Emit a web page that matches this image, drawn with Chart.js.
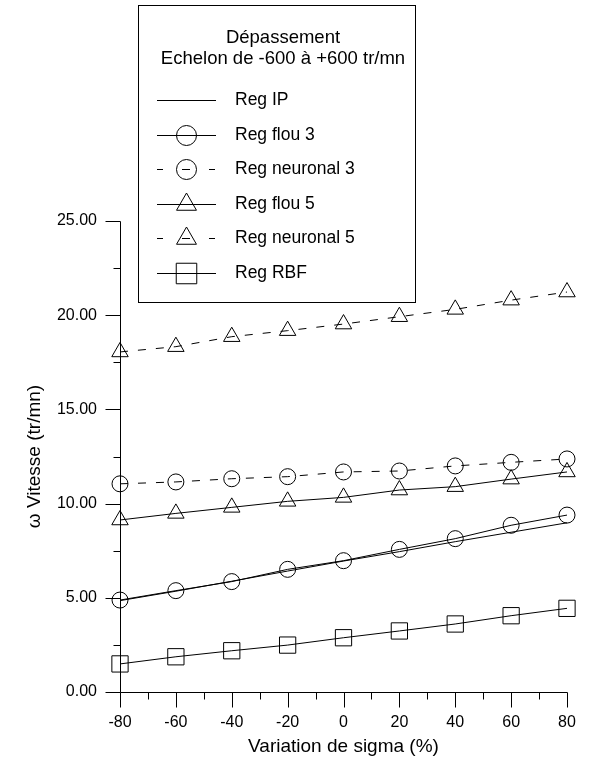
<!DOCTYPE html>
<html>
<head>
<meta charset="utf-8">
<script src="https://cdn.jsdelivr.net/npm/chart.js@4/dist/chart.umd.min.js"></script>
<style>
html,body{margin:0;padding:0;background:#fff;}
#wrap{width:610px;height:760px;}
</style>
</head>
<body>
<div id="wrap"><canvas id="c" width="610" height="760"></canvas></div>
<script>
const sigmaVariation = [-80, -60, -40, -20, 0, 20, 40, 60, 80];
const regIP        = [4.85, 5.35, 5.88, 6.42, 6.95, 7.45, 7.98, 8.48, 8.98];
const regFlou3     = [4.88, 5.38, 5.86, 6.51, 6.97, 7.57, 8.14, 8.85, 9.39];
const regNeuronal3 = [11.05, 11.15, 11.32, 11.43, 11.68, 11.73, 12.00, 12.19, 12.37];
const regFlou5     = [9.13, 9.48, 9.80, 10.12, 10.33, 10.72, 10.90, 11.30, 11.68];
const regNeuronal5 = [18.05, 18.33, 18.86, 19.18, 19.53, 19.92, 20.31, 20.80, 21.23];
const regRBF       = [1.49, 1.87, 2.19, 2.49, 2.88, 3.24, 3.61, 4.05, 4.44];
const yTickLabels  = ['0.00', '5.00', '10.00', '15.00', '20.00', '25.00'];
const legendTitle  = ['Dépassement', 'Echelon de -600 à +600 tr/mn'];
const xTitle = 'Variation de sigma (%)';
const yTitle = 'ω Vitesse (tr/mn)';

const FONT = '"Liberation Sans", Arial, Helvetica, sans-serif';
const pts = arr => arr.map((v, i) => ({x: sigmaVariation[i], y: v}));

function ds(label, arr, style, radius, dashed) {
  return {
    label, data: pts(arr),
    borderColor: '#000', borderWidth: 1, backgroundColor: 'transparent',
    pointStyle: style || 'circle', pointRadius: style ? radius : 0,
    pointBorderColor: '#000', pointBackgroundColor: 'transparent', pointBorderWidth: 1,
    borderDash: dashed ? [8, 10] : [], tension: 0, clip: false
  };
}

const datasets = [
  ds('Reg IP', regIP, null, 0, false),
  ds('Reg flou 3', regFlou3, 'circle', 8, false),
  ds('Reg neuronal 3', regNeuronal3, 'circle', 8, true),
  ds('Reg flou 5', regFlou5, 'triangle', 9.5, false),
  ds('Reg neuronal 5', regNeuronal5, 'triangle', 9.5, true),
  ds('Reg RBF', regRBF, 'rect', 11.5, false)
];

const axesPlugin = {
  id: 'axesPlugin',
  beforeDatasetsDraw(chart) {
    const {ctx, scales: {x, y}} = chart;
    ctx.save();
    ctx.strokeStyle = '#000';
    ctx.lineWidth = 1;
    const x0 = Math.round(x.getPixelForValue(-80)) + 0.5;
    const y0 = Math.round(y.getPixelForValue(0)) + 0.5;
    ctx.beginPath();
    ctx.moveTo(x0, Math.round(y.getPixelForValue(25)) + 0.5);
    ctx.lineTo(x0, y0);
    ctx.moveTo(x0, y0);
    ctx.lineTo(Math.round(x.getPixelForValue(80)) + 0.5, y0);
    for (let v = 0; v <= 25; v += 2.5) {
      const py = Math.round(y.getPixelForValue(v)) + 0.5;
      const len = (v % 5 === 0) ? 15 : 7;
      ctx.moveTo(x0 - len, py); ctx.lineTo(x0, py);
    }
    for (let v = -80; v <= 80; v += 10) {
      const px = Math.round(x.getPixelForValue(v)) + 0.5;
      const len = (v % 20 === 0) ? 15 : 7;
      ctx.moveTo(px, y0); ctx.lineTo(px, y0 + len);
    }
    ctx.stroke();
    ctx.restore();
  }
};

function drawMarker(ctx, style, cx, cy, r) {
  ctx.beginPath();
  if (style === 'circle') {
    ctx.arc(cx, cy, r, 0, Math.PI * 2);
  } else if (style === 'triangle') {
    for (let k = 0; k < 3; k++) {
      const a = k * 2 * Math.PI / 3;
      const px = cx + Math.sin(a) * r, py = cy - Math.cos(a) * r;
      if (k === 0) ctx.moveTo(px, py); else ctx.lineTo(px, py);
    }
    ctx.closePath();
  } else if (style === 'rect') {
    const s = r * Math.SQRT1_2;
    ctx.rect(cx - s, cy - s, 2 * s, 2 * s);
  }
  ctx.stroke();
}

const legendPlugin = {
  id: 'boxLegend',
  afterDatasetsDraw(chart) {
    const ctx = chart.ctx;
    ctx.save();
    const bx = 138.5, by = 5.5, bw = 277, bh = 297;
    ctx.fillStyle = '#fff';
    ctx.fillRect(bx, by, bw, bh);
    ctx.strokeStyle = '#000';
    ctx.lineWidth = 1;
    ctx.strokeRect(bx, by, bw, bh);
    ctx.fillStyle = '#000';
    ctx.font = '18.5px ' + FONT;
    ctx.textAlign = 'center';
    ctx.textBaseline = 'middle';
    ctx.fillText(legendTitle[0], 283, 38);
    ctx.fillText(legendTitle[1], 283, 59);
    ctx.textAlign = 'left';
    ctx.font = '17.5px ' + FONT;
    chart.data.datasets.forEach((d, i) => {
      const yy = Math.round(100 + i * 34.6) + 0.5;
      ctx.beginPath();
      if (d.borderDash && d.borderDash.length) {
        ctx.moveTo(157, yy); ctx.lineTo(163, yy);
        ctx.moveTo(182, yy); ctx.lineTo(190, yy);
        ctx.moveTo(209, yy); ctx.lineTo(215, yy);
      } else {
        ctx.moveTo(157, yy); ctx.lineTo(216, yy);
      }
      ctx.stroke();
      if (d.pointRadius > 0) drawMarker(ctx, d.pointStyle, 186.5, yy, d.pointStyle === 'rect' ? 14.5 : (d.pointStyle === 'triangle' ? 11.5 : 10));
      ctx.fillText(d.label, 235, yy);
    });
    ctx.restore();
  }
};

new Chart(document.getElementById('c'), {
  type: 'line',
  data: {datasets},
  options: {
    responsive: false,
    devicePixelRatio: 1,
    animation: false,
    layout: {padding: {top: 221, right: 43, left: 0, bottom: 0}},
    plugins: {legend: {display: false}, tooltip: {enabled: false}},
    scales: {
      x: {
        type: 'linear', min: -80, max: 80,
        afterFit: s => { s.height = 68; },
        grid: {display: false, drawTicks: false},
        border: {display: false},
        ticks: {stepSize: 20, padding: 21, color: '#000', font: {family: FONT, size: 16}, maxRotation: 0},
        title: {display: true, text: xTitle, color: '#000', font: {family: FONT, size: 19}, padding: {top: 0, bottom: 2}}
      },
      y: {
        type: 'linear', min: 0, max: 25,
        afterFit: s => { s.width = 120; },
        grid: {display: false, drawTicks: false},
        border: {display: false},
        ticks: {stepSize: 5, padding: 23, color: '#000', font: {family: FONT, size: 16},
                callback: (v) => yTickLabels[Math.round(v / 5)]},
        title: {display: true, text: yTitle, color: '#000', font: {family: FONT, size: 19}, padding: {top: 23, bottom: 0}}
      }
    }
  },
  plugins: [axesPlugin, legendPlugin]
});
</script>
</body>
</html>
